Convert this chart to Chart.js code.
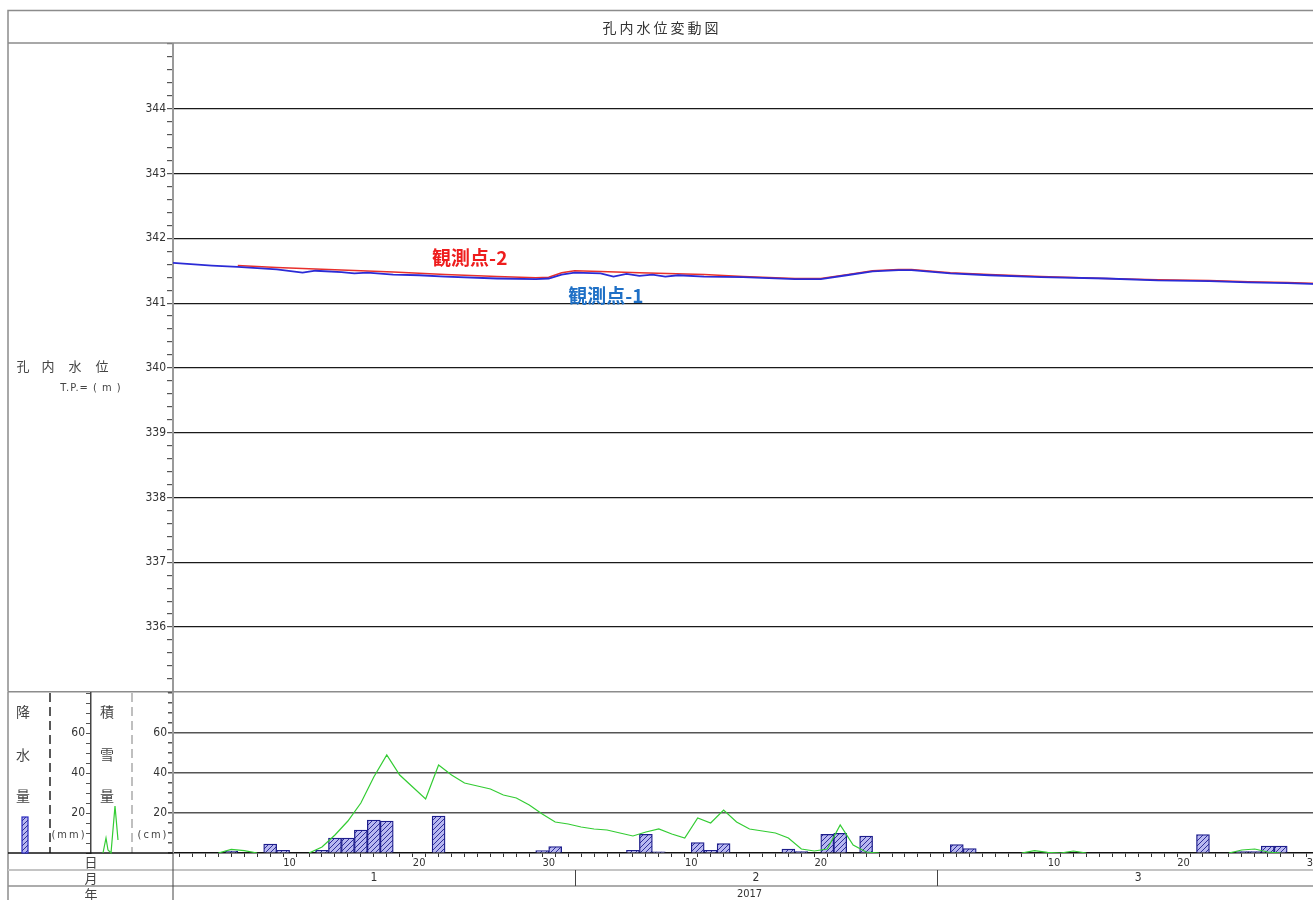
<!DOCTYPE html>
<html lang="ja">
<head>
<meta charset="utf-8">
<title>孔内水位変動図</title>
<script src="https://cdn.jsdelivr.net/npm/chart.js@4.4.1/dist/chart.umd.min.js"></script>
<style>
html, body { margin: 0; padding: 0; background: #fff; overflow: hidden; width: 1313px; height: 900px; }
#top { position: absolute; left: 0; top: 0; }
#bot { position: absolute; left: 0; top: 673px; }
</style>
</head>
<body>
<canvas id="top" width="1339" height="700"></canvas>
<canvas id="bot" width="1339" height="227"></canvas>
<script>
var chartTitle = '孔内水位変動図';
var yearLabel = '2017';
var months = ['1', '2', '3'];
var monthStart = [1, 32, 60, 91];   // day numbers (1 = Jan 1), last one = end of range
var dayLabels = [10, 20, 30];

// 観測点-1 (blue)
var days1 = [1, 4, 6, 9, 11, 12, 14, 15, 16, 18, 20, 22, 26, 29, 30, 31, 32, 34, 35, 36, 37, 38, 39, 40,
             42, 45, 49, 51, 53, 55, 57, 58, 61, 64, 68, 73, 77, 81, 84, 87, 90];
var level1 = [341.62, 341.58, 341.56, 341.52, 341.47, 341.50, 341.48, 341.46, 341.47, 341.44, 341.43, 341.41,
              341.38, 341.37, 341.38, 341.44, 341.47, 341.46, 341.41, 341.45, 341.42, 341.44, 341.41, 341.43,
              341.41, 341.40, 341.37, 341.37, 341.43, 341.49, 341.51, 341.51, 341.46, 341.43, 341.40, 341.38,
              341.35, 341.34, 341.32, 341.31, 341.29];

// 観測点-2 (red)
var days2 = [6, 9, 14, 18, 22, 26, 29, 30, 31, 32, 34, 37, 42, 45, 49, 51, 53, 55, 57, 58, 61, 64, 68, 73,
             77, 81, 84, 87, 90];
var level2 = [341.58, 341.55, 341.51, 341.48, 341.44, 341.41, 341.39, 341.40, 341.47, 341.50, 341.49, 341.47,
              341.44, 341.41, 341.38, 341.38, 341.44, 341.50, 341.52, 341.52, 341.47, 341.44, 341.41, 341.38,
              341.36, 341.35, 341.33, 341.32, 341.30];

// 降水量 (mm / day)
var rainDays = [5, 8, 9, 12, 13, 14, 15, 16, 17, 21, 29, 30, 36, 37, 38, 41, 42, 43, 48, 49, 51, 52, 54,
                61, 62, 80, 83, 84, 85, 86];
var rainMm = [1, 4.5, 1.3, 1.3, 7.5, 7.5, 11.5, 16.5, 16, 18.5, 1.2, 3.2, 1.3, 9.3, 0.6, 5.2, 1.3, 4.7, 2, 0.7,
              9.3, 9.8, 8.5, 4.2, 2.2, 9.2, 0.7, 0.7, 3.5, 3.5];

// 積雪量 (cm), null = no line
var snowDays = [4, 5, 6, 7, 8,
                11, 12, 13, 14, 15, 16, 17, 18, 19, 20, 21, 22, 23, 24, 25, 26, 27, 28, 29, 30, 31, 32, 33,
                34, 35, 36, 37, 38, 39, 40, 41, 42, 43, 44, 45, 46, 47, 48, 49, 50, 51, 52, 53, 54, 55, 56,
                66, 67, 68, 69, 70, 71, 72,
                82, 83, 84, 85, 86];
var snowCm = [0, 1.8, 1.2, 0, null,
              0, 3, 9, 16, 25, 38, 49, 39, 33, 27, 44, 39, 35, 33.5, 32, 29, 27.5, 24, 19.5, 15.5, 14.5, 13, 12,
              11.5, 10, 8.5, 10.5, 12, 9.5, 7.5, 17.5, 15, 21.5, 15.5, 12, 11, 10, 7.5, 2, 1, 2, 14, 4, 0.5, 0, null,
              0, 1.2, 0.3, 0, 1, 0, null,
              0, 1.5, 2, 0.5, 0];

var FONT_NUM = '"Liberation Sans Narrow", "DejaVu Sans Condensed", "Liberation Sans", sans-serif';
var FONT_JP = '"Noto Sans CJK JP", sans-serif';

function puntos(days, vals, off) {
    var out = [];
    for (var i = 0; i < days.length; i++) {
        out.push({ x: days[i] + off, y: vals[i] });
    }
    return out;
}

function fillTicks(from, to, step) {
    var t = [];
    var n = Math.round((to - from) / step);
    for (var i = 0; i <= n; i++) {
        t.push({ value: Math.round((from + i * step) * 100) / 100 });
    }
    return t;
}

function crearTrama(ctx) {
    var c = document.createElement('canvas');
    c.width = 5; c.height = 5;
    var g = c.getContext('2d');
    g.fillStyle = '#b8b8f0';
    g.fillRect(0, 0, 5, 5);
    g.strokeStyle = '#2e2e9a';
    g.lineWidth = 1;
    g.beginPath();
    g.moveTo(0, 5); g.lineTo(5, 0);
    g.moveTo(-1, 1); g.lineTo(1, -1);
    g.moveTo(4, 6); g.lineTo(6, 4);
    g.stroke();
    return ctx.createPattern(c, 'repeat');
}

Chart.defaults.font.family = FONT_NUM;
Chart.defaults.color = '#333';

// ---------- top chart: water level ----------
var marcoSuperior = {
    id: 'marcoSuperior',
    afterDraw: function (chart) {
        var c = chart.ctx, a = chart.chartArea, W = chart.width;
        c.save();
        c.strokeStyle = '#8c8c8c';
        c.lineWidth = 1.5;
        c.beginPath();
        c.moveTo(8, a.bottom); c.lineTo(8, 10.5); c.lineTo(W, 10.5);
        c.moveTo(8, 43); c.lineTo(W, 43);
        c.moveTo(8, a.bottom); c.lineTo(W, a.bottom);
        c.stroke();

        c.fillStyle = '#333';
        c.textAlign = 'center';
        c.textBaseline = 'middle';
        c.font = '14px ' + FONT_JP;
        if ('letterSpacing' in c) c.letterSpacing = '3px';
        c.fillText(chartTitle, 662, 28);
        if ('letterSpacing' in c) c.letterSpacing = '0px';

        c.fillStyle = '#444';
        c.font = '13px ' + FONT_JP;
        var chars = ['孔', '内', '水', '位'];
        var cx = [23, 48, 75, 102];
        for (var i = 0; i < chars.length; i++) c.fillText(chars[i], cx[i], 366);
        c.font = '11px ' + FONT_NUM;
        if ('letterSpacing' in c) c.letterSpacing = '1px';
        c.fillText('T.P.= ( m )', 91, 388);
        if ('letterSpacing' in c) c.letterSpacing = '0px';

        var xs = chart.scales.x, ys = chart.scales.y;
        c.textAlign = 'left';
        c.font = 'bold 19px ' + FONT_JP;
        c.fillStyle = '#ee1d1d';
        c.fillText('観測点-2', xs.getPixelForValue(21), ys.getPixelForValue(341.70));
        c.fillStyle = '#1f70c6';
        c.fillText('観測点-1', xs.getPixelForValue(31.5), ys.getPixelForValue(341.11));
        c.restore();
    }
};

new Chart(document.getElementById('top'), {
    type: 'line',
    data: {
        datasets: [{
            label: '観測点-1',
            data: puntos(days1, level1, 0),
            borderColor: '#2b2bd6',
            borderWidth: 1.8,
            pointRadius: 0,
            tension: 0
        }, {
            label: '観測点-2',
            data: puntos(days2, level2, 0),
            borderColor: '#e8302c',
            borderWidth: 1.5,
            pointRadius: 0,
            tension: 0
        }]
    },
    options: {
        responsive: false,
        animation: false,
        layout: { padding: { top: 44, bottom: 8, left: 0, right: 0 } },
        plugins: { legend: { display: false }, tooltip: { enabled: false } },
        scales: {
            x: { type: 'linear', min: 1, max: 91, display: false },
            y: {
                type: 'linear', min: 335, max: 345,
                afterBuildTicks: function (s) { s.ticks = fillTicks(335, 345, 0.2); },
                afterFit: function (s) { s.width = 173; },
                ticks: {
                    autoSkip: false,
                    padding: 1,
                    font: { size: 12 },
                    callback: function (v) {
                        var r = Math.round(v);
                        return (Math.abs(v - r) < 1e-6 && r >= 336 && r <= 344) ? String(r) : '';
                    }
                },
                grid: {
                    tickLength: 6,
                    tickColor: '#555',
                    lineWidth: 1.2,
                    color: function (ctx) {
                        var v = ctx.tick.value, r = Math.round(v);
                        return (Math.abs(v - r) < 1e-6 && r >= 336 && r <= 344) ? '#1a1a1a' : 'rgba(0,0,0,0)';
                    }
                },
                border: { color: '#9a9a9a', width: 2 }
            }
        }
    },
    plugins: [marcoSuperior]
});

// ---------- bottom chart: rain + snow ----------
var botCanvas = document.getElementById('bot');
var trama = crearTrama(botCanvas.getContext('2d'));
var OFF = 673;  // page y of bottom canvas

var marcoInferior = {
    id: 'marcoInferior',
    afterDraw: function (chart) {
        var c = chart.ctx, a = chart.chartArea, W = chart.width, H = chart.height;
        var xs = chart.scales.x;
        c.save();
        c.strokeStyle = '#8c8c8c';
        c.lineWidth = 1.5;
        c.beginPath();
        c.moveTo(8, a.top - 1); c.lineTo(8, H);
        c.stroke();

        c.setLineDash([9, 5]);
        c.lineWidth = 1.5;
        c.strokeStyle = '#222';
        c.beginPath(); c.moveTo(50, a.top); c.lineTo(50, a.bottom); c.stroke();
        c.strokeStyle = '#aaa';
        c.beginPath(); c.moveTo(132, a.top); c.lineTo(132, a.bottom); c.stroke();
        c.setLineDash([]);

        c.strokeStyle = '#111';
        c.beginPath(); c.moveTo(8, a.bottom); c.lineTo(a.left, a.bottom); c.stroke();
        c.strokeStyle = '#c4c4c4'; c.lineWidth = 2;
        c.beginPath(); c.moveTo(8, 870 - OFF); c.lineTo(W, 870 - OFF); c.stroke();
        c.strokeStyle = '#909090'; c.lineWidth = 1.5;
        c.beginPath(); c.moveTo(8, 886 - OFF); c.lineTo(W, 886 - OFF); c.stroke();
        c.strokeStyle = '#444'; c.lineWidth = 1;
        c.beginPath(); c.moveTo(a.left, a.bottom); c.lineTo(a.left, H); c.stroke();
        for (var m = 1; m < months.length; m++) {
            var px = Math.round(xs.getPixelForValue(monthStart[m])) + 0.5;
            c.beginPath(); c.moveTo(px, 870 - OFF); c.lineTo(px, 886 - OFF); c.stroke();
        }

        c.fillStyle = '#333';
        c.textAlign = 'center';
        c.textBaseline = 'middle';
        c.font = '12px ' + FONT_NUM;
        for (var k = 0; k < months.length; k++) {
            var mid = (monthStart[k] + monthStart[k + 1]) / 2;
            c.fillText(months[k], xs.getPixelForValue(mid), 878 - OFF);
        }
        c.font = '11px ' + FONT_NUM;
        c.fillText(yearLabel, xs.getPixelForValue((monthStart[0] + monthStart[months.length] - 1) / 2), 894 - OFF);

        c.fillStyle = '#444';
        c.font = '13px ' + FONT_JP;
        c.fillText('日', 91, 862 - OFF);
        c.fillText('月', 91, 878 - OFF);
        c.fillText('年', 91, 894 - OFF);

        c.font = '14px ' + FONT_JP;
        var rainTxt = ['降', '水', '量'], snowTxt = ['積', '雪', '量'], ty = [712, 755, 796];
        for (var i = 0; i < 3; i++) {
            c.fillText(rainTxt[i], 23, ty[i] - OFF);
            c.fillText(snowTxt[i], 107, ty[i] - OFF);
        }
        c.font = '11px ' + FONT_NUM;
        if ('letterSpacing' in c) c.letterSpacing = '2px';
        c.fillText('(mm)', 69, 835 - OFF);
        c.fillText('(cm)', 153, 835 - OFF);
        if ('letterSpacing' in c) c.letterSpacing = '0px';

        // legend swatches
        c.fillStyle = trama;
        c.fillRect(22, 817 - OFF, 6, 36);
        c.strokeStyle = '#2828c0'; c.lineWidth = 1.2;
        c.strokeRect(22, 817 - OFF, 6, 36);
        c.strokeStyle = '#33cc33'; c.lineWidth = 1.2;
        c.beginPath();
        c.moveTo(103, 853 - OFF); c.lineTo(106, 838 - OFF); c.lineTo(108, 850 - OFF);
        c.lineTo(111, 853 - OFF); c.lineTo(115, 806 - OFF); c.lineTo(118, 840 - OFF);
        c.stroke();
        c.restore();
    }
};

var rainData = puntos(rainDays, rainMm, 0.5);
var snowData = puntos(snowDays, snowCm, 0.5);

new Chart(botCanvas, {
    type: 'line',
    data: {
        datasets: [{
            type: 'line',
            label: '積雪量',
            data: snowData,
            yAxisID: 'ySnow',
            borderColor: '#33cc33',
            borderWidth: 1.2,
            pointRadius: 0,
            tension: 0,
            spanGaps: false
        }, {
            type: 'bar',
            label: '降水量',
            data: rainData,
            yAxisID: 'yRain',
            backgroundColor: trama,
            borderColor: '#1e1e8c',
            borderWidth: 1.3,
            barPercentage: 1,
            categoryPercentage: 1
        }]
    },
    options: {
        responsive: false,
        animation: false,
        layout: { padding: { top: 20, bottom: 0, left: 0, right: 0 } },
        plugins: { legend: { display: false }, tooltip: { enabled: false } },
        scales: {
            x: {
                type: 'linear', min: 1, max: 91, offset: false,
                afterBuildTicks: function (s) { s.ticks = fillTicks(1, 91, 1); },
                afterFit: function (s) { s.height = 47; },
                ticks: {
                    autoSkip: false, maxRotation: 0, minRotation: 0, padding: 0,
                    font: { size: 11 },
                    callback: function (v) {
                        for (var m = months.length - 1; m >= 0; m--) {
                            if (v >= monthStart[m]) {
                                var d = v - monthStart[m] + 1;
                                return dayLabels.indexOf(d) >= 0 ? String(d) : '';
                            }
                        }
                        return '';
                    }
                },
                grid: { drawOnChartArea: false, tickLength: 4, tickColor: '#333', lineWidth: 1 },
                border: { color: '#111', width: 1.5 }
            },
            ySnow: {
                type: 'linear', position: 'left', weight: 0, min: 0, max: 80,
                afterBuildTicks: function (s) { s.ticks = fillTicks(0, 80, 5); },
                afterFit: function (s) { s.width = 82; },
                ticks: {
                    autoSkip: false, padding: 1, font: { size: 12 },
                    callback: function (v) { return (v === 20 || v === 40 || v === 60) ? String(v) : ''; }
                },
                grid: {
                    tickLength: 5, tickColor: '#555', lineWidth: 1.5,
                    color: function (ctx) {
                        var v = ctx.tick.value;
                        return (v === 20 || v === 40 || v === 60) ? '#555' : 'rgba(0,0,0,0)';
                    }
                },
                border: { color: '#9a9a9a', width: 2 }
            },
            yRain: {
                type: 'linear', position: 'left', weight: 1, min: 0, max: 80,
                afterBuildTicks: function (s) { s.ticks = fillTicks(0, 80, 5); },
                afterFit: function (s) { s.width = 91; },
                ticks: {
                    autoSkip: false, padding: 1, font: { size: 12 },
                    callback: function (v) { return (v === 20 || v === 40 || v === 60) ? String(v) : ''; }
                },
                grid: { drawOnChartArea: false, tickLength: 5, tickColor: '#555' },
                border: { color: '#444', width: 1.5 }
            }
        }
    },
    plugins: [marcoInferior]
});
</script>
</body>
</html>
